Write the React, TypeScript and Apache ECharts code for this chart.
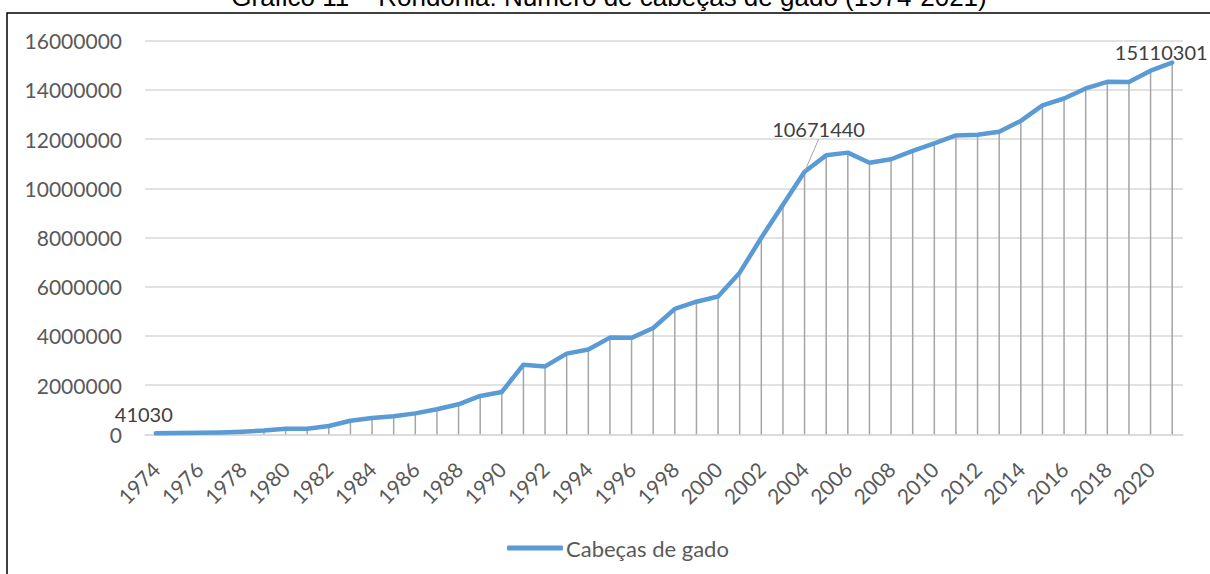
import React, { useEffect, useRef } from "react";
import * as echarts from "echarts";

const TITLE = "Gráfico 11 – Rondônia: Número de cabeças de gado (1974-2021)";
const SERIES_NAME = "Cabeças de gado";

const years = [
  "1974", "1975", "1976", "1977", "1978", "1979", "1980", "1981", "1982", "1983",
  "1984", "1985", "1986", "1987", "1988", "1989", "1990", "1991", "1992", "1993",
  "1994", "1995", "1996", "1997", "1998", "1999", "2000", "2001", "2002", "2003",
  "2004", "2005", "2006", "2007", "2008", "2009", "2010", "2011", "2012", "2013",
  "2014", "2015", "2016", "2017", "2018", "2019", "2020", "2021",
];

const cattle = [
  41030, 52000, 64000, 78000, 105000, 150000, 225000, 228000, 335000, 550000,
  660000, 730000, 850000, 1020000, 1220000, 1560000, 1720000, 2830000, 2760000, 3280000,
  3450000, 3930000, 3920000, 4320000, 5100000, 5390000, 5600000, 6570000, 7990000, 9330000,
  10671440, 11340000, 11450000, 11040000, 11180000, 11520000, 11830000, 12150000, 12180000, 12300000,
  12740000, 13370000, 13650000, 14060000, 14330000, 14320000, 14780000, 15110301,
];

const labeledYears = ["1974", "2004", "2021"];

const yTicks = [0, 2000000, 4000000, 6000000, 8000000, 10000000, 12000000, 14000000, 16000000];

const FONT = "Lato";
const GRAY_TEXT = "#595959";

export default function App() {
  const ref = useRef<HTMLDivElement>(null);

  useEffect(() => {
    if (!ref.current) return;
    const chart = echarts.init(ref.current, undefined, { renderer: "svg" });

    const labelShift: Record<string, { dx: number; dy: number }> = {
      "1974": { dx: -12, dy: -4 },
      "2004": { dx: 14, dy: -27 },
      "2021": { dx: -11, dy: 5 },
    };

    const lineData = cattle.map((v, i) => {
      const y = years[i];
      if (labeledYears.includes(y)) {
        return {
          value: v,
          label: { show: true },
          labelLine: y === "2004" ? { show: true, lineStyle: { color: "#a5a5a5", width: 1 } } : { show: false },
        };
      }
      return v;
    });

    chart.setOption({
      animation: false,
      backgroundColor: "#ffffff",
      graphic: [
        {
          type: "rect",
          shape: { x: 7, y: 13, width: 1400, height: 800 },
          style: { fill: "none", stroke: "#000000", lineWidth: 1.5 },
          silent: true,
        },
        {
          type: "text",
          x: 609,
          y: 10,
          style: {
            text: TITLE,
            font: "26px 'Liberation Sans', Arial, sans-serif",
            fill: "#000000",
            textAlign: "center",
            textVerticalAlign: "bottom",
          },
          silent: true,
        },
      ],
      grid: { left: 145, right: 27, top: 40.7, bottom: 139.7 },
      legend: {
        data: [{ name: SERIES_NAME, icon: "roundRect" }],
        left: 502,
        top: 532,
        itemWidth: 56,
        itemHeight: 5,
        itemGap: 10,
        textStyle: { fontFamily: FONT, fontSize: 22, color: GRAY_TEXT, padding: [0, 0, 0, -2] },
        selectedMode: false,
      },
      xAxis: {
        type: "category",
        data: years,
        boundaryGap: true,
        axisLine: { show: true, lineStyle: { color: "#d9d9d9", width: 1.5 } },
        axisTick: { show: false },
        axisLabel: {
          interval: 1,
          rotate: 45,
          margin: 31,
          fontFamily: FONT,
          fontSize: 21,
          color: GRAY_TEXT,
        },
      },
      yAxis: {
        type: "value",
        min: yTicks[0],
        max: yTicks[yTicks.length - 1],
        interval: yTicks[1] - yTicks[0],
        axisLine: { show: false },
        axisTick: { show: false },
        splitLine: { lineStyle: { color: "#d9d9d9", width: 1.5 } },
        axisLabel: {
          margin: 23,
          fontFamily: FONT,
          fontSize: 21,
          color: GRAY_TEXT,
          formatter: (v: number) => String(v),
        },
      },
      series: [
        {
          name: "drop",
          type: "bar",
          data: cattle,
          barWidth: 1.5,
          itemStyle: { color: "#a5a5a5" },
          silent: true,
          legendHoverLink: false,
        },
        {
          name: SERIES_NAME,
          type: "line",
          data: lineData,
          showSymbol: true,
          symbol: "circle",
          symbolSize: 1,
          itemStyle: { color: "#5b9bd5" },
          lineStyle: { color: "#5b9bd5", width: 4.5, cap: "round", join: "round" },
          label: {
            show: false,
            position: "top",
            fontFamily: FONT,
            fontSize: 20,
            color: "#404040",
            formatter: (p: any) => String(p.value),
          },
          labelLayout: (p: any) => {
            const s = labelShift[years[p.dataIndex]];
            return s ? { dx: s.dx, dy: s.dy } : {};
          },
          z: 3,
        },
      ],
    });

    return () => chart.dispose();
  }, []);

  return (
    <div
      ref={ref}
      style={{ position: "fixed", left: 0, top: 0, width: 1210, height: 574, background: "#fff" }}
    />
  );
}
